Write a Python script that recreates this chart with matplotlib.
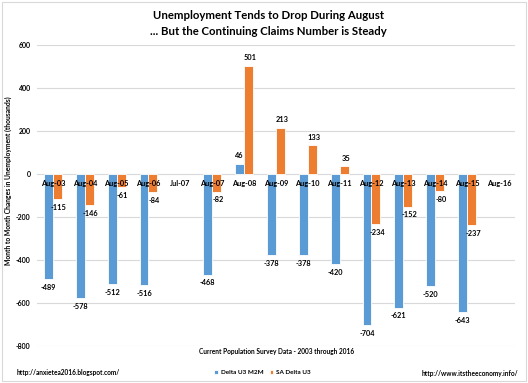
import numpy as np
import matplotlib.pyplot as plt
from matplotlib.patches import Rectangle

categories = ['Aug-03', 'Aug-04', 'Aug-05', 'Aug-06', 'Jul-07', 'Aug-07', 'Aug-08', 'Aug-09',
              'Aug-10', 'Aug-11', 'Aug-12', 'Aug-13', 'Aug-14', 'Aug-15', 'Aug-16']
delta_u3_m2m = [-489, -578, -512, -516, np.nan, -468, 46, -378, -378, -420, -704, -621, -520, -643, np.nan]
sa_delta_u3 = [-115, -146, -61, -84, np.nan, -82, 501, 213, 133, 35, -234, -152, -80, -237, np.nan]
yticks = [600, 400, 200, 0, -200, -400, -600, -800]

blue = '#5B9BD5'
orange = '#ED7D31'
font = 'Lato'

fig = plt.figure(figsize=(5.28, 3.83), dpi=100)
ax = fig.add_axes([0.070, 0.0966, 0.905, 0.786])

x = np.arange(len(categories))
w = 0.28
ax.bar(x - w / 2, delta_u3_m2m, w, color=blue, edgecolor='white', linewidth=0.6, label='Delta U3 M2M', zorder=2)
ax.bar(x + w / 2, sa_delta_u3, w, color=orange, edgecolor='white', linewidth=0.6, label='SA Delta U3', zorder=2)

# data labels
for xs, vals in ((x - w / 2, delta_u3_m2m), (x + w / 2 + 0.05, sa_delta_u3)):
    for xi, v in zip(xs, vals):
        if np.isnan(v):
            continue
        off = 6 if v > 0 else -6
        ax.annotate(f'{v:g}', (xi, v), xytext=(0, off), textcoords='offset points',
                    ha='center', va='center', fontsize=5.3, fontweight='bold', family=font, zorder=3)

# category labels sitting on the zero line
for xi, c in zip(x, categories):
    ax.annotate(c, (xi, 0), xytext=(0, -6.5), textcoords='offset points', ha='center', va='center',
                fontsize=5.3, fontweight='bold', family=font, zorder=4)

ax.set_xlim(-0.5, len(categories) - 0.5)
ax.set_ylim(-800, 600)
ax.set_yticks(yticks)
ax.set_yticklabels([str(t) for t in yticks], fontsize=5, fontweight='bold', family=font)
ax.set_xticks([])
ax.tick_params(axis='y', length=0, pad=4.5)
ax.grid(axis='y', color='#D9D9D9', linewidth=0.8, zorder=0)
for s in ax.spines.values():
    s.set_visible(False)

ax.set_ylabel('Month to Month Changes in Unemployment (thousands)', fontsize=4.9, fontweight='bold',
              family=font)
ax.yaxis.set_label_coords(-0.052, 0.548)

fig.text(0.508, 0.96, 'Unemployment Tends to Drop During August', ha='center', va='center',
         fontsize=8.2, fontweight='bold', family=font)
fig.text(0.508, 0.918, '... But the Continuing Claims Number is Steady', ha='center', va='center',
         fontsize=8.2, fontweight='bold', family=font)
fig.text(0.523, 0.081, 'Current Population Survey Data - 2003 through 2016', ha='center', va='center',
         fontsize=4.7, fontweight='bold', family=font)

fig.legend(loc='center', bbox_to_anchor=(0.497, 0.028), ncol=2, frameon=False,
           prop={'family': font, 'size': 4.6, 'weight': 'bold'},
           handlelength=0.6, handleheight=0.6, columnspacing=1.0, handletextpad=0.4)

fig.text(0.032, 0.028, 'http://anxietea2016.blogspot.com/', ha='left', va='center',
         fontsize=4.7, fontweight='bold', family=font)
fig.text(0.981, 0.024, 'http://www.itstheeconomy.info/', ha='right', va='center',
         fontsize=4.7, fontweight='bold', family=font)

fig.patches.append(Rectangle((0.004, 0.004), 0.992, 0.992, transform=fig.transFigure,
                             fill=False, edgecolor='#D9D9D9', linewidth=0.8))

fig.savefig('out.png', dpi=100)
